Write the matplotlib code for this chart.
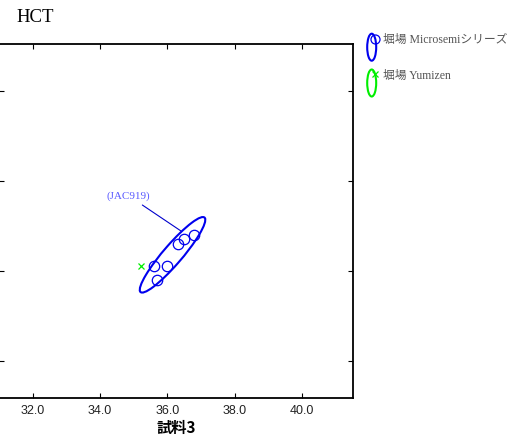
import numpy as np
import matplotlib
matplotlib.use("Agg")
import matplotlib.pyplot as plt
from matplotlib.patches import Ellipse

# HCT values: sample 3 (x) vs comparison (y)
microsemi_x = [35.6, 36.0, 35.7, 36.3, 36.5, 36.8]
microsemi_y = [36.1, 36.1, 35.8, 36.6, 36.7, 36.8]
yumizen_x = [35.2]
yumizen_y = [36.1]

x_ticks = [32.0, 34.0, 36.0, 38.0, 40.0]
y_ticks = [34.0, 36.0, 38.0, 40.0]
x_lim = (31.0, 41.5)
y_lim = (33.16, 41.03)

series_names = ["堀場 Microsemiシリーズ", "堀場 Yumizen"]
series_colors = ["#0000ee", "#00ee00"]
note_text = "(JAC919)"
note_xy = (36.40, 36.88)
note_text_xy = (34.85, 37.66)

W, H = 510, 447
fig = plt.figure(figsize=(W / 100, H / 100), dpi=100)
serif = ["Liberation Serif", "Noto Sans CJK JP"]

# main axes (left spine sits just past the figure's left edge)
left_px, right_px, top_px, bottom_px = -0.9, 352.7, 44.3, 398.3
ax = fig.add_axes([left_px / W, 1 - bottom_px / H,
                   (right_px - left_px) / W, (bottom_px - top_px) / H])
ax.set_xlim(*x_lim)
ax.set_ylim(*y_lim)
ax.set_xticks(x_ticks)
ax.set_xticklabels([f"{v:.1f}" for v in x_ticks], family="Liberation Sans", fontsize=9,
                   color="#222222")
ax.set_yticks(y_ticks)
ax.set_yticklabels([])
ax.tick_params(direction="in", length=3.5, width=0.8, top=True, right=True, pad=5)
for s in ax.spines.values():
    s.set_linewidth(1.3)
ax.set_xlabel("試料3", family=["Noto Sans CJK JP", "DejaVu Sans"], fontweight="bold",
              fontsize=11, labelpad=2)

# Microsemi points and their confidence ellipse
mx = np.array(microsemi_x)
my = np.array(microsemi_y)
ax.plot(mx, my, linestyle="none", marker="o", markersize=7.5, markerfacecolor="none",
        markeredgecolor=series_colors[0], markeredgewidth=0.9)
cov = np.cov(mx, my)
vals, vecs = np.linalg.eigh(cov)
order = vals.argsort()[::-1]
vals, vecs = vals[order], vecs[:, order]
angle = np.degrees(np.arctan2(vecs[1, 0], vecs[0, 0]))
n_std = 2.08
ell = Ellipse((mx.mean(), my.mean()), 2 * n_std * np.sqrt(vals[0]),
              2 * n_std * np.sqrt(vals[1]), angle=angle, fill=False,
              edgecolor=series_colors[0], linewidth=1.5)
ax.add_patch(ell)

# Yumizen point
ax.plot(yumizen_x, yumizen_y, linestyle="none", marker="x", markersize=4.5,
        color=series_colors[1], markeredgewidth=0.9)

ax.annotate(note_text, xy=note_xy, xytext=note_text_xy, ha="center", va="center",
            family=serif, fontsize=8, color="#5a5aff",
            arrowprops=dict(arrowstyle="-", color="#0000cc", linewidth=0.8,
                            shrinkA=2, shrinkB=0))

# title
fig.text(16 / W, 1 - 18 / H, "HCT", family=serif, fontsize=13.5, ha="left", va="center")

# legend drawn in pixel coordinates
lax = fig.add_axes([0, 0, 1, 1])
lax.set_xlim(0, W)
lax.set_ylim(H, 0)
lax.axis("off")
legend_rows = [47.2, 83.0]
markers = ["o", "x"]
for name, color, yc, mk in zip(series_names, series_colors, legend_rows, markers):
    lax.add_patch(Ellipse((371.7, yc), 9, 27, fill=False, edgecolor=color, linewidth=1.5))
    if mk == "o":
        lax.plot(375.5, yc - 8.5, marker="o", markersize=6.5, markerfacecolor="none",
                 markeredgecolor=color, markeredgewidth=0.9)
    else:
        lax.plot(375.0, yc - 9.0, marker="x", markersize=4, color=color,
                 markeredgewidth=0.9)
    lax.text(383.3, yc - 7, name, family=serif, fontsize=8.5, color="#555555",
             ha="left", va="center")

fig.savefig("out.png", dpi=100)
